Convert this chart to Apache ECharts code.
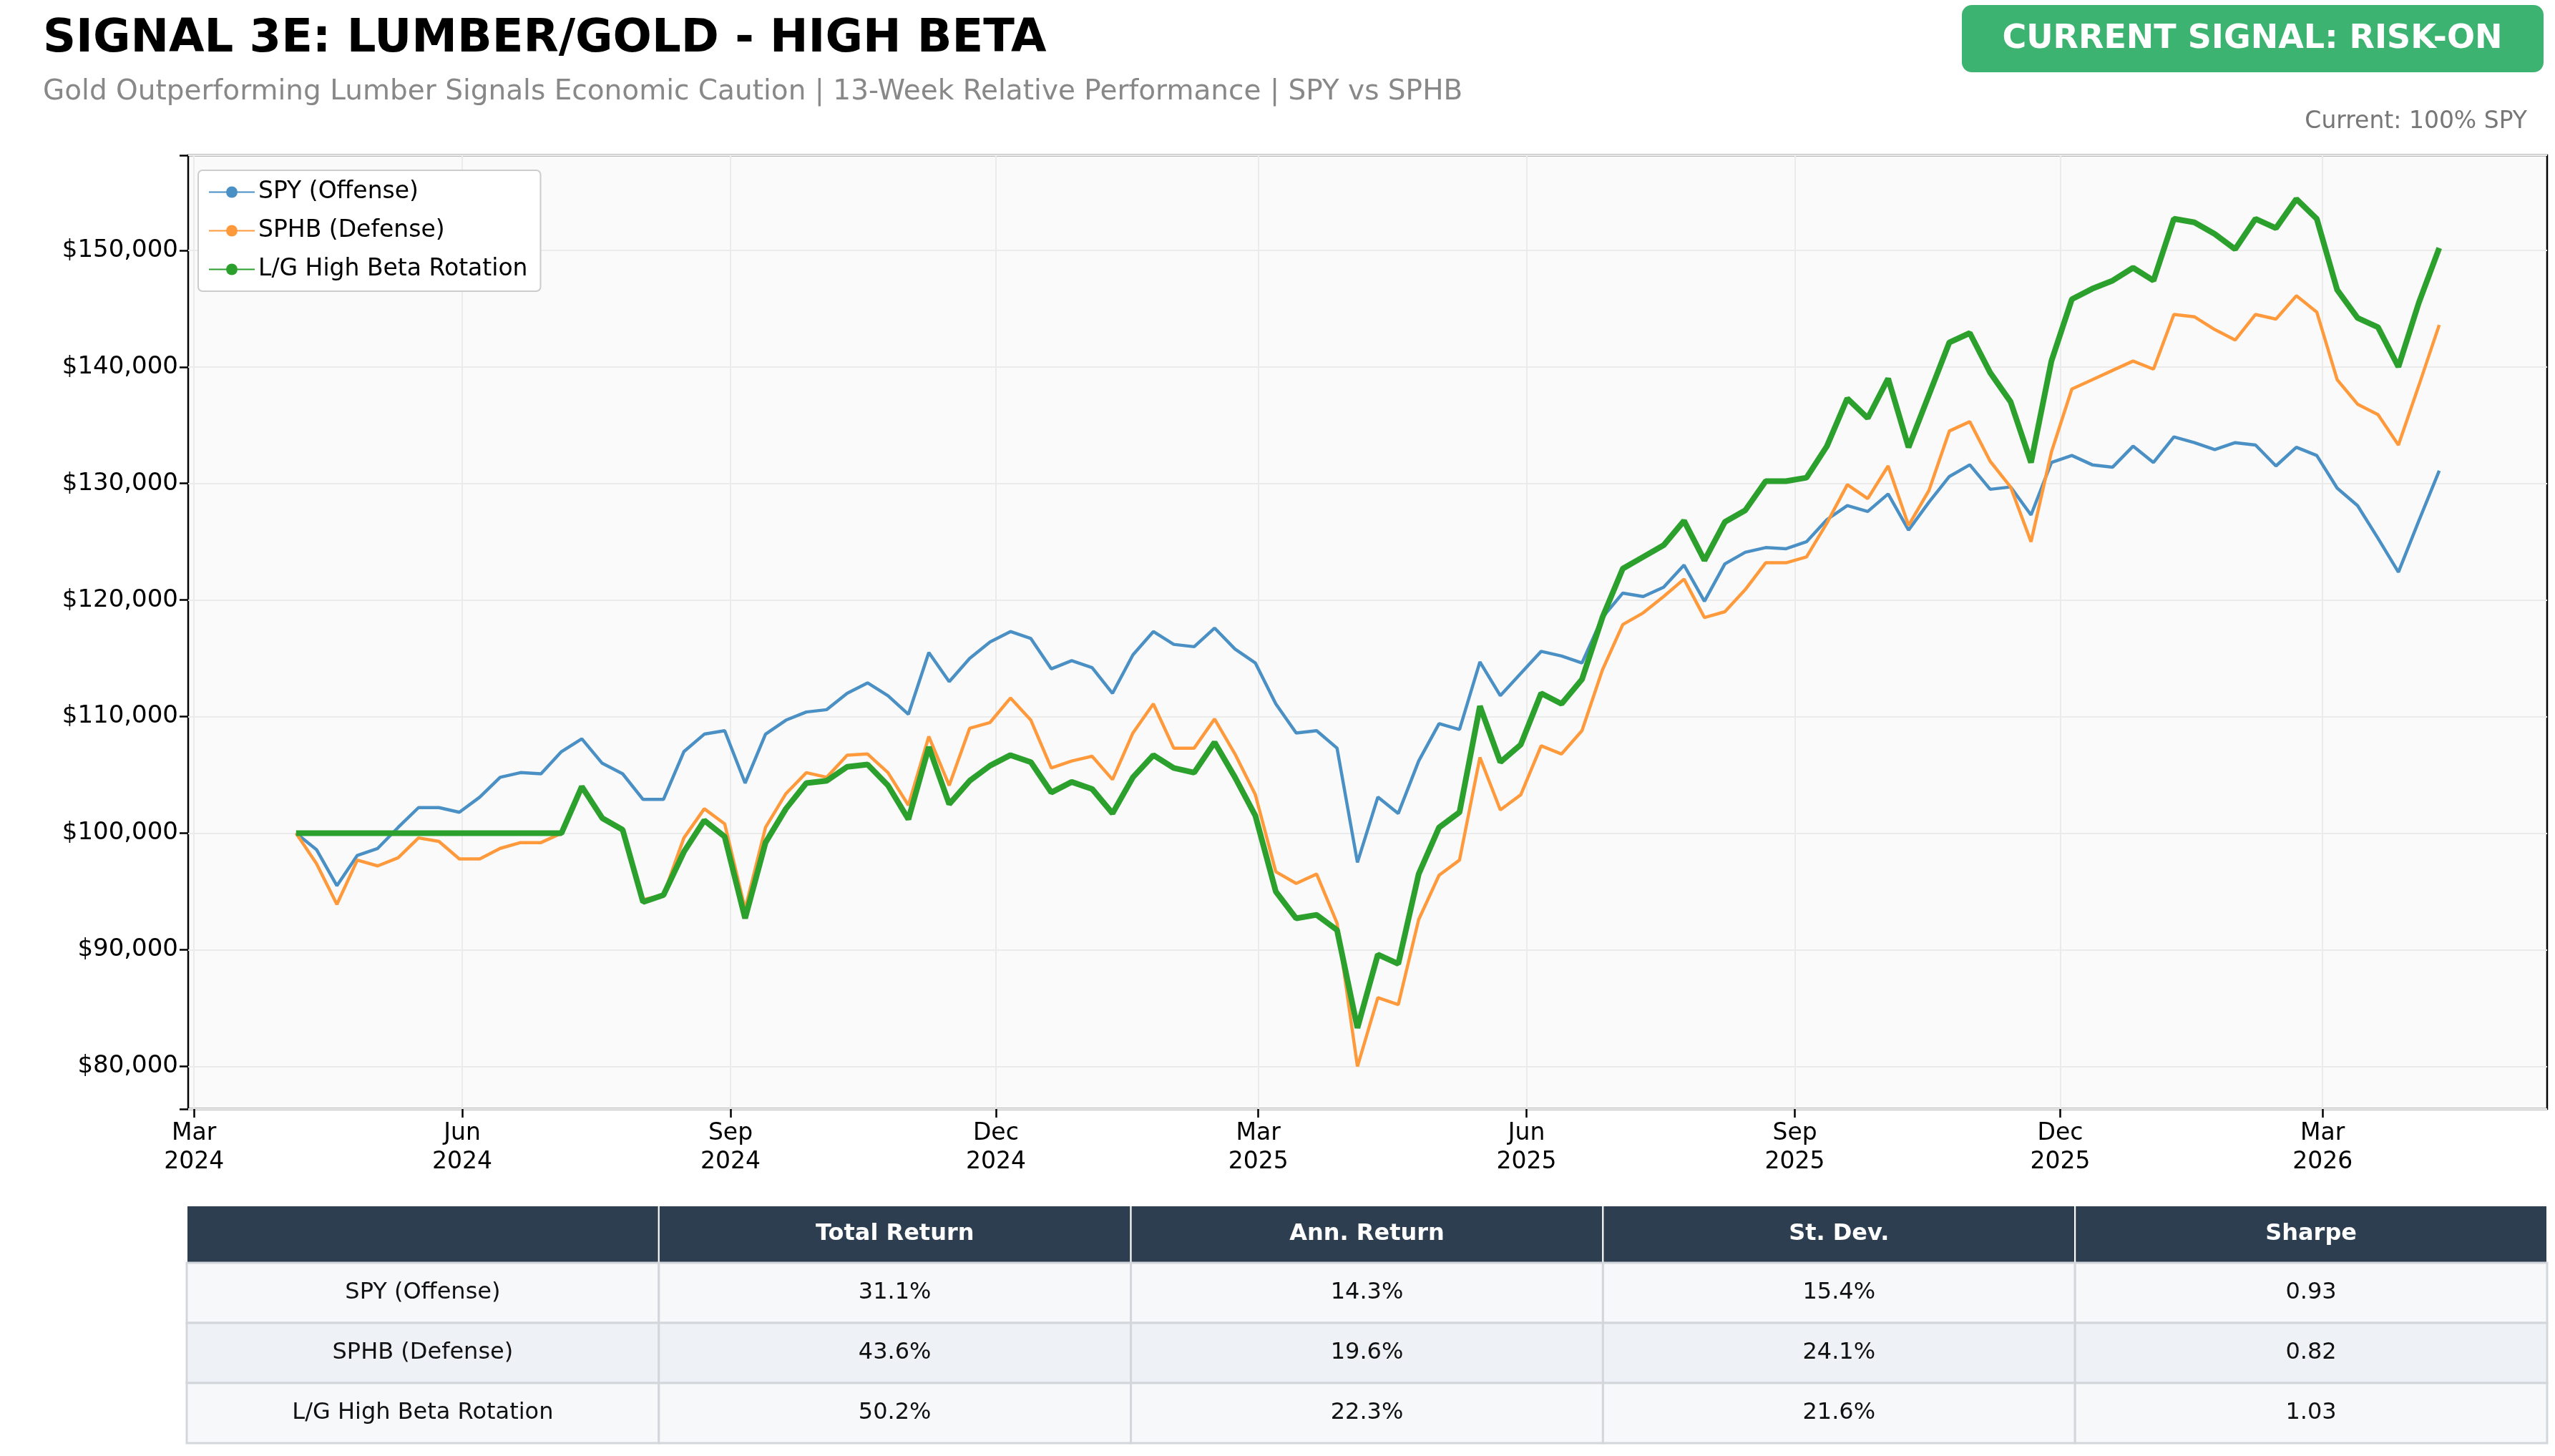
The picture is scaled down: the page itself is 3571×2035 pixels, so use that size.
<!DOCTYPE html>
<html>
<head>
<meta charset="UTF-8">
<title>Signal 3E</title>
<script src="https://cdn.jsdelivr.net/npm/echarts@6/dist/echarts.min.js"></script>
<style>
  html, body { margin: 0; padding: 0; background: #fff; }
  #main { width: 3571px; height: 2035px; }
</style>
</head>
<body>
<div id="main"></div>
<script>
// weekly closes, starting 2024-04-05
var startDate = Date.UTC(2024, 3, 5);
var spy = [100000, 98600, 95500, 98100, 98700, 100500, 102200, 102200, 101800, 103100,
  104800, 105200, 105100, 107000, 108100, 106000, 105100, 102900, 102900, 107000,
  108500, 108800, 104300, 108500, 109700, 110400, 110600, 112000, 112900, 111800,
  110200, 115500, 113000, 115000, 116400, 117300, 116700, 114100, 114800, 114200,
  112000, 115300, 117300, 116200, 116000, 117600, 115800, 114600, 111100, 108600,
  108800, 107300, 97500, 103100, 101700, 106200, 109400, 108900, 114700, 111800,
  113700, 115600, 115200, 114600, 118500, 120600, 120300, 121100, 123000, 119900,
  123100, 124100, 124500, 124400, 125000, 126900, 128100, 127600, 129100, 126000,
  128400, 130600, 131600, 129500, 129700, 127300, 131800, 132400, 131600, 131400,
  133200, 131800, 134000, 133500, 132900, 133500, 133300, 131500, 133100, 132400,
  129600, 128100, 125300, 122400, 126800, 131100];
var sphb = [100000, 97400, 93900, 97700, 97200, 97900, 99600, 99300, 97800, 97800,
  98700, 99200, 99200, 100000, 103800, 101300, 100300, 94300, 94700, 99600,
  102100, 100800, 93500, 100500, 103400, 105200, 104800, 106700, 106800, 105200,
  102400, 108300, 104100, 109000, 109500, 111600, 109700, 105600, 106200, 106600,
  104600, 108600, 111100, 107300, 107300, 109800, 106800, 103300, 96700, 95700,
  96500, 92300, 80000, 85900, 85300, 92600, 96400, 97700, 106500, 102000,
  103300, 107500, 106800, 108800, 114000, 117900, 118900, 120300, 121800, 118500,
  119000, 120900, 123200, 123200, 123700, 126600, 129900, 128700, 131500, 126400,
  129400, 134500, 135300, 131900, 129700, 125000, 132700, 138100, 138900, 139700,
  140500, 139800, 144500, 144300, 143200, 142300, 144500, 144100, 146100, 144700,
  138900, 136800, 135900, 133300, 138400, 143600];
var rotation = [100000, 100000, 100000, 100000, 100000, 100000, 100000, 100000, 100000, 100000,
  100000, 100000, 100000, 100000, 104000, 101300, 100300, 94100, 94700, 98400,
  101100, 99700, 92700, 99200, 102100, 104300, 104500, 105700, 105900, 104100,
  101200, 107400, 102500, 104500, 105800, 106700, 106100, 103500, 104400, 103800,
  101700, 104800, 106700, 105600, 105200, 107800, 104800, 101500, 95000, 92700,
  93000, 91700, 83300, 89600, 88800, 96500, 100500, 101800, 110900, 106100,
  107600, 112000, 111100, 113200, 118500, 122700, 123700, 124700, 126800, 123400,
  126700, 127700, 130200, 130200, 130500, 133200, 137300, 135600, 139000, 133100,
  137600, 142100, 142900, 139500, 137000, 131800, 140500, 145800, 146700, 147400,
  148500, 147400, 152700, 152400, 151400, 150100, 152700, 151900, 154400, 152700,
  146600, 144200, 143400, 140000, 145500, 150200];

var seriesNames = ['SPY (Offense)', 'SPHB (Defense)', 'L/G High Beta Rotation'];
var seriesColors = ['#4a90c4', '#ff9a3c', '#2ca02c'];
var seriesWidths = [4.5, 4.5, 8];

var xTickDates = ['2024-03-01', '2024-06-01', '2024-09-01', '2024-12-01', '2025-03-01',
  '2025-06-01', '2025-09-01', '2025-12-01', '2026-03-01'];
var monthNames = ['Jan', 'Feb', 'Mar', 'Apr', 'May', 'Jun', 'Jul', 'Aug', 'Sep', 'Oct', 'Nov', 'Dec'];

var tableHeaders = ['', 'Total Return', 'Ann. Return', 'St. Dev.', 'Sharpe'];
var tableRows = [
  ['SPY (Offense)', '31.1%', '14.3%', '15.4%', '0.93'],
  ['SPHB (Defense)', '43.6%', '19.6%', '24.1%', '0.82'],
  ['L/G High Beta Rotation', '50.2%', '22.3%', '21.6%', '1.03']
];

var FONT = 'DejaVu Sans';
var WEEK = 7 * 24 * 3600 * 1000;

function toPairs(arr) {
  return arr.map(function (v, i) { return [startDate + i * WEEK, v]; });
}
var tickTimes = xTickDates.map(function (d) {
  var p = d.split('-');
  return Date.UTC(+p[0], +p[1] - 1, +p[2]);
});

// table drawn as graphic elements
var graphics = [];
var tLeft = 261, tTop = 1685, tWidth = 3299, headH = 80, rowH = 84;
var colW = tWidth / tableHeaders.length;
tableHeaders.forEach(function (h, c) {
  graphics.push({ type: 'rect', shape: { x: tLeft + c * colW, y: tTop, width: colW, height: headH },
    style: { fill: '#2c3e50', stroke: '#ffffff', lineWidth: 2 } });
  graphics.push({ type: 'text', x: tLeft + c * colW + colW / 2, y: tTop + headH / 2,
    style: { text: h, fill: '#ffffff', font: 'bold 32px "' + FONT + '"', align: 'center', verticalAlign: 'middle' } });
});
tableRows.forEach(function (row, r) {
  var y = tTop + headH + r * rowH;
  row.forEach(function (cell, c) {
    graphics.push({ type: 'rect', shape: { x: tLeft + c * colW, y: y, width: colW, height: rowH },
      style: { fill: r % 2 === 1 ? '#eef1f5' : '#f6f8fa', stroke: '#d3d7dc', lineWidth: 3 } });
    graphics.push({ type: 'text', x: tLeft + c * colW + colW / 2, y: y + rowH / 2,
      style: { text: cell, fill: '#111111', font: '32px "' + FONT + '"', align: 'center', verticalAlign: 'middle' } });
  });
});
// signal badge
graphics.push({ type: 'rect', shape: { x: 2742, y: 7, width: 813, height: 94, r: 14 },
  style: { fill: '#3cb371' } });
graphics.push({ type: 'text', x: 3148, y: 55,
  style: { text: 'CURRENT SIGNAL: RISK-ON', fill: '#ffffff', font: 'bold 46px "' + FONT + '"', align: 'center', verticalAlign: 'middle' } });
graphics.push({ type: 'text', x: 3532, y: 170,
  style: { text: 'Current: 100% SPY', fill: '#777777', font: '33px "' + FONT + '"', align: 'right', verticalAlign: 'middle' } });

var series = [spy, sphb, rotation].map(function (arr, k) {
  return {
    name: seriesNames[k],
    type: 'line',
    data: toPairs(arr),
    symbol: 'none',
    z: k + 2,
    lineStyle: { color: seriesColors[k], width: seriesWidths[k] },
    itemStyle: { color: seriesColors[k] }
  };
});
// vertical gridlines at the month ticks
series[0].markLine = {
  silent: true, symbol: 'none', label: { show: false }, z: 1,
  lineStyle: { color: '#ebebeb', width: 2, type: 'solid' },
  data: tickTimes.map(function (t) { return { xAxis: t }; })
};

var myChart = echarts.init(document.getElementById('main'));
var option = {
  backgroundColor: '#ffffff',
  animation: false,
  textStyle: { fontFamily: FONT },
  title: {
    text: 'SIGNAL 3E: LUMBER/GOLD - HIGH BETA',
    subtext: 'Gold Outperforming Lumber Signals Economic Caution | 13-Week Relative Performance | SPY vs SPHB',
    left: 55, top: 18, itemGap: 22,
    textStyle: { fontFamily: FONT, fontSize: 64, fontWeight: 'bold', color: '#000000' },
    subtextStyle: { fontFamily: FONT, fontSize: 39, color: '#888888' }
  },
  grid: {
    left: 263, right: 11, top: 217, height: 1333,
    show: true, backgroundColor: '#fafafa', borderColor: '#000000', borderWidth: 2.5
  },
  legend: {
    orient: 'vertical', left: 277, top: 238,
    data: seriesNames,
    backgroundColor: '#ffffff', borderColor: '#cccccc', borderWidth: 2, borderRadius: 6,
    padding: [14, 18, 14, 14], itemGap: 21, itemWidth: 64, itemHeight: 20,
    textStyle: { fontFamily: FONT, fontSize: 33, color: '#000000' }
  },
  xAxis: {
    type: 'value',
    min: Date.UTC(2024, 1, 28),
    max: Date.UTC(2026, 4, 17),
    axisLine: { show: false },
    axisTick: { show: true, customValues: tickTimes, length: 12, lineStyle: { color: '#000', width: 2.5 } },
    axisLabel: {
      customValues: tickTimes, color: '#000', fontSize: 33, lineHeight: 40, margin: 14,
      fontFamily: FONT, align: 'center',
      formatter: function (v) {
        var d = new Date(v);
        return monthNames[d.getUTCMonth()] + '\n' + d.getUTCFullYear();
      }
    },
    splitLine: { show: false }
  },
  yAxis: {
    type: 'value',
    min: 76350, max: 158150, splitNumber: 8,
    axisLine: { show: false },
    axisTick: { show: true, length: 12, lineStyle: { color: '#000', width: 2.5 } },
    axisLabel: {
      color: '#000', fontSize: 34, margin: 14, fontFamily: FONT,
      formatter: function (v) { return v % 10000 === 0 ? '$' + v.toLocaleString('en-US') : ''; }
    },
    splitLine: { show: true, lineStyle: { color: '#ebebeb', width: 2 } }
  },
  graphic: graphics,
  series: series
};
myChart.setOption(option);
</script>
</body>
</html>
